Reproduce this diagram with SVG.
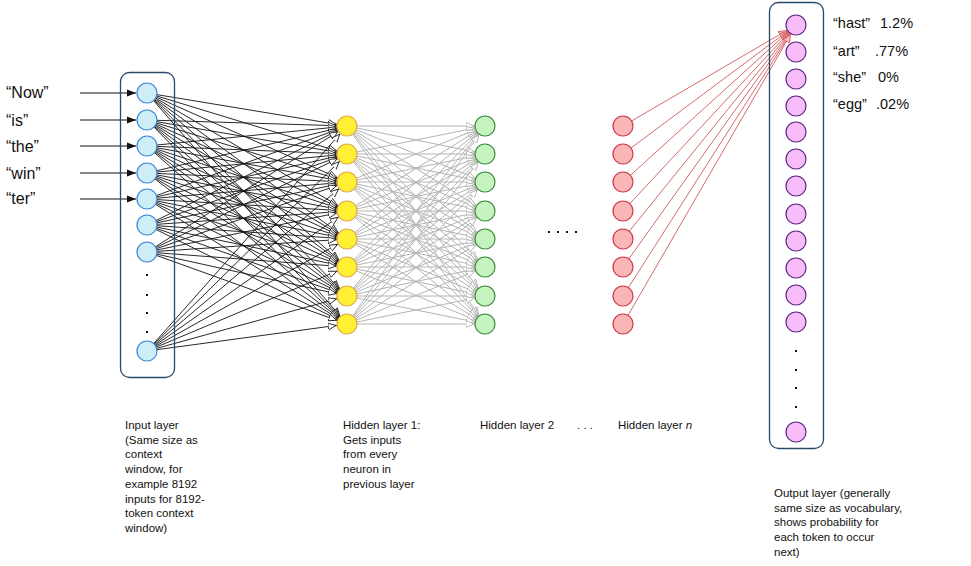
<svg xmlns="http://www.w3.org/2000/svg" width="971" height="566" viewBox="0 0 971 566">
<style>
text{font-family:"Liberation Sans",Arial,sans-serif;fill:#111}
.lbl{font-size:16px}
.sm{font-size:11.5px}
.out{font-size:14.5px}
.box{fill:none;stroke:#2a4868;stroke-width:1.3}
.in circle{fill:#cdeef6;stroke:#3d86d6;stroke-width:1.2}
.h1 circle{fill:#fff033;stroke:#e0a84a;stroke-width:1.2}
.h2 circle{fill:#c6f4c0;stroke:#3c8a3c;stroke-width:1.2}
.hn circle{fill:#f8b6b6;stroke:#d03848;stroke-width:1.2}
.o circle{fill:#f8bcf8;stroke:#5a2a88;stroke-width:1.2}
.k line{stroke:#111;stroke-width:0.9;marker-end:url(#ak)}
.g line{stroke:#b4b4b4;stroke-width:1;marker-end:url(#ag)}
.r line{stroke:#d05a5a;stroke-width:0.9;marker-end:url(#ar)}
.ia line{stroke:#111;stroke-width:1.1;marker-end:url(#af)}
.dot{fill:#111}
</style>
<defs>
<marker id="ak" markerUnits="userSpaceOnUse" markerWidth="30" markerHeight="12" viewBox="0 0 30 12" refX="19" refY="6" orient="auto"><path d="M0,2.6 L8,6 L0,9.4 Z" fill="#fff" stroke="#111" stroke-width="0.8"/></marker>
<marker id="ag" markerUnits="userSpaceOnUse" markerWidth="30" markerHeight="12" viewBox="0 0 30 12" refX="19" refY="6" orient="auto"><path d="M0,2.6 L8,6 L0,9.4 Z" fill="#fff" stroke="#aaa" stroke-width="0.8"/></marker>
<marker id="ar" markerUnits="userSpaceOnUse" markerWidth="30" markerHeight="12" viewBox="0 0 30 12" refX="19" refY="6" orient="auto"><path d="M0,2.6 L8,6 L0,9.4 Z" fill="#f4c0c0" stroke="#d05a5a" stroke-width="0.8"/></marker>
<marker id="af" markerUnits="userSpaceOnUse" markerWidth="10" markerHeight="8" viewBox="0 0 10 8" refX="9" refY="4" orient="auto"><path d="M0,0.5 L9,4 L0,7.5 Z" fill="#111"/></marker>
</defs>

<g id="connectors">
<g class="ia">
<line x1="80" y1="93" x2="136" y2="93"/>
<line x1="80" y1="120" x2="136" y2="120"/>
<line x1="80" y1="146" x2="136" y2="146"/>
<line x1="80" y1="173" x2="136" y2="173"/>
<line x1="80" y1="199" x2="136" y2="199"/>
</g>
<g class="k">
<line x1="147" y1="93" x2="347" y2="126"/><line x1="147" y1="93" x2="347" y2="154"/><line x1="147" y1="93" x2="347" y2="182"/><line x1="147" y1="93" x2="347" y2="211"/><line x1="147" y1="93" x2="347" y2="239"/><line x1="147" y1="93" x2="347" y2="267"/><line x1="147" y1="93" x2="347" y2="296"/><line x1="147" y1="93" x2="347" y2="324"/>
<line x1="147" y1="120" x2="347" y2="126"/><line x1="147" y1="120" x2="347" y2="154"/><line x1="147" y1="120" x2="347" y2="182"/><line x1="147" y1="120" x2="347" y2="211"/><line x1="147" y1="120" x2="347" y2="239"/><line x1="147" y1="120" x2="347" y2="267"/><line x1="147" y1="120" x2="347" y2="296"/><line x1="147" y1="120" x2="347" y2="324"/>
<line x1="147" y1="146" x2="347" y2="126"/><line x1="147" y1="146" x2="347" y2="154"/><line x1="147" y1="146" x2="347" y2="182"/><line x1="147" y1="146" x2="347" y2="211"/><line x1="147" y1="146" x2="347" y2="239"/><line x1="147" y1="146" x2="347" y2="267"/><line x1="147" y1="146" x2="347" y2="296"/><line x1="147" y1="146" x2="347" y2="324"/>
<line x1="147" y1="173" x2="347" y2="126"/><line x1="147" y1="173" x2="347" y2="154"/><line x1="147" y1="173" x2="347" y2="182"/><line x1="147" y1="173" x2="347" y2="211"/><line x1="147" y1="173" x2="347" y2="239"/><line x1="147" y1="173" x2="347" y2="267"/><line x1="147" y1="173" x2="347" y2="296"/><line x1="147" y1="173" x2="347" y2="324"/>
<line x1="147" y1="199" x2="347" y2="126"/><line x1="147" y1="199" x2="347" y2="154"/><line x1="147" y1="199" x2="347" y2="182"/><line x1="147" y1="199" x2="347" y2="211"/><line x1="147" y1="199" x2="347" y2="239"/><line x1="147" y1="199" x2="347" y2="267"/><line x1="147" y1="199" x2="347" y2="296"/><line x1="147" y1="199" x2="347" y2="324"/>
<line x1="147" y1="225" x2="347" y2="126"/><line x1="147" y1="225" x2="347" y2="154"/><line x1="147" y1="225" x2="347" y2="182"/><line x1="147" y1="225" x2="347" y2="211"/><line x1="147" y1="225" x2="347" y2="239"/><line x1="147" y1="225" x2="347" y2="267"/><line x1="147" y1="225" x2="347" y2="296"/><line x1="147" y1="225" x2="347" y2="324"/>
<line x1="147" y1="252" x2="347" y2="126"/><line x1="147" y1="252" x2="347" y2="154"/><line x1="147" y1="252" x2="347" y2="182"/><line x1="147" y1="252" x2="347" y2="211"/><line x1="147" y1="252" x2="347" y2="239"/><line x1="147" y1="252" x2="347" y2="267"/><line x1="147" y1="252" x2="347" y2="296"/><line x1="147" y1="252" x2="347" y2="324"/>
<line x1="147" y1="351" x2="347" y2="126"/><line x1="147" y1="351" x2="347" y2="154"/><line x1="147" y1="351" x2="347" y2="182"/><line x1="147" y1="351" x2="347" y2="211"/><line x1="147" y1="351" x2="347" y2="239"/><line x1="147" y1="351" x2="347" y2="267"/><line x1="147" y1="351" x2="347" y2="296"/><line x1="147" y1="351" x2="347" y2="324"/>
</g>
<g class="g">
<line x1="347" y1="126" x2="485" y2="126"/><line x1="347" y1="126" x2="485" y2="154"/><line x1="347" y1="126" x2="485" y2="182"/><line x1="347" y1="126" x2="485" y2="211"/><line x1="347" y1="126" x2="485" y2="239"/><line x1="347" y1="126" x2="485" y2="267"/><line x1="347" y1="126" x2="485" y2="296"/><line x1="347" y1="126" x2="485" y2="324"/>
<line x1="347" y1="154" x2="485" y2="126"/><line x1="347" y1="154" x2="485" y2="154"/><line x1="347" y1="154" x2="485" y2="182"/><line x1="347" y1="154" x2="485" y2="211"/><line x1="347" y1="154" x2="485" y2="239"/><line x1="347" y1="154" x2="485" y2="267"/><line x1="347" y1="154" x2="485" y2="296"/><line x1="347" y1="154" x2="485" y2="324"/>
<line x1="347" y1="182" x2="485" y2="126"/><line x1="347" y1="182" x2="485" y2="154"/><line x1="347" y1="182" x2="485" y2="182"/><line x1="347" y1="182" x2="485" y2="211"/><line x1="347" y1="182" x2="485" y2="239"/><line x1="347" y1="182" x2="485" y2="267"/><line x1="347" y1="182" x2="485" y2="296"/><line x1="347" y1="182" x2="485" y2="324"/>
<line x1="347" y1="211" x2="485" y2="126"/><line x1="347" y1="211" x2="485" y2="154"/><line x1="347" y1="211" x2="485" y2="182"/><line x1="347" y1="211" x2="485" y2="211"/><line x1="347" y1="211" x2="485" y2="239"/><line x1="347" y1="211" x2="485" y2="267"/><line x1="347" y1="211" x2="485" y2="296"/><line x1="347" y1="211" x2="485" y2="324"/>
<line x1="347" y1="239" x2="485" y2="126"/><line x1="347" y1="239" x2="485" y2="154"/><line x1="347" y1="239" x2="485" y2="182"/><line x1="347" y1="239" x2="485" y2="211"/><line x1="347" y1="239" x2="485" y2="239"/><line x1="347" y1="239" x2="485" y2="267"/><line x1="347" y1="239" x2="485" y2="296"/><line x1="347" y1="239" x2="485" y2="324"/>
<line x1="347" y1="267" x2="485" y2="126"/><line x1="347" y1="267" x2="485" y2="154"/><line x1="347" y1="267" x2="485" y2="182"/><line x1="347" y1="267" x2="485" y2="211"/><line x1="347" y1="267" x2="485" y2="239"/><line x1="347" y1="267" x2="485" y2="267"/><line x1="347" y1="267" x2="485" y2="296"/><line x1="347" y1="267" x2="485" y2="324"/>
<line x1="347" y1="296" x2="485" y2="126"/><line x1="347" y1="296" x2="485" y2="154"/><line x1="347" y1="296" x2="485" y2="182"/><line x1="347" y1="296" x2="485" y2="211"/><line x1="347" y1="296" x2="485" y2="239"/><line x1="347" y1="296" x2="485" y2="267"/><line x1="347" y1="296" x2="485" y2="296"/><line x1="347" y1="296" x2="485" y2="324"/>
<line x1="347" y1="324" x2="485" y2="126"/><line x1="347" y1="324" x2="485" y2="154"/><line x1="347" y1="324" x2="485" y2="182"/><line x1="347" y1="324" x2="485" y2="211"/><line x1="347" y1="324" x2="485" y2="239"/><line x1="347" y1="324" x2="485" y2="267"/><line x1="347" y1="324" x2="485" y2="296"/><line x1="347" y1="324" x2="485" y2="324"/>
</g>
<g class="r">
<line x1="623" y1="126" x2="796" y2="25"/><line x1="623" y1="154" x2="796" y2="25"/><line x1="623" y1="182" x2="796" y2="25"/><line x1="623" y1="211" x2="796" y2="25"/><line x1="623" y1="239" x2="796" y2="25"/><line x1="623" y1="267" x2="796" y2="25"/><line x1="623" y1="296" x2="796" y2="25"/><line x1="623" y1="324" x2="796" y2="25"/>
</g>
</g>

<g id="input-layer" class="in">
<rect class="box" x="120.5" y="72.5" width="54" height="305" rx="9"/>
<circle cx="147" cy="93" r="10"/><circle cx="147" cy="120" r="10"/><circle cx="147" cy="146" r="10"/><circle cx="147" cy="173" r="10"/><circle cx="147" cy="199" r="10"/><circle cx="147" cy="225" r="10"/><circle cx="147" cy="252" r="10"/><circle cx="147" cy="351" r="10"/>
<rect class="dot" x="146" y="274" width="2" height="2"/><rect class="dot" x="146" y="294" width="2" height="2"/><rect class="dot" x="146" y="312" width="2" height="2"/><rect class="dot" x="146" y="331" width="2" height="2"/>
</g>
<g id="input-tokens">
<text class="lbl" x="6" y="98">“Now”</text>
<text class="lbl" x="6" y="126">“is”</text>
<text class="lbl" x="6" y="152">“the”</text>
<text class="lbl" x="6" y="179">“win”</text>
<text class="lbl" x="6" y="204">“ter”</text>
</g>

<g id="hidden-layer-1" class="h1">
<circle cx="347" cy="126" r="10"/><circle cx="347" cy="154" r="10"/><circle cx="347" cy="182" r="10"/><circle cx="347" cy="211" r="10"/><circle cx="347" cy="239" r="10"/><circle cx="347" cy="267" r="10"/><circle cx="347" cy="296" r="10"/><circle cx="347" cy="324" r="10"/>
</g>
<g id="hidden-layer-2" class="h2">
<circle cx="485" cy="126" r="10"/><circle cx="485" cy="154" r="10"/><circle cx="485" cy="182" r="10"/><circle cx="485" cy="211" r="10"/><circle cx="485" cy="239" r="10"/><circle cx="485" cy="267" r="10"/><circle cx="485" cy="296" r="10"/><circle cx="485" cy="324" r="10"/>
</g>
<g id="ellipsis">
<rect class="dot" x="548" y="231" width="2" height="2"/><rect class="dot" x="557" y="231" width="2" height="2"/><rect class="dot" x="566" y="231" width="2" height="2"/><rect class="dot" x="575" y="231" width="2" height="2"/>
</g>
<g id="hidden-layer-n" class="hn">
<circle cx="623" cy="126" r="10"/><circle cx="623" cy="154" r="10"/><circle cx="623" cy="182" r="10"/><circle cx="623" cy="211" r="10"/><circle cx="623" cy="239" r="10"/><circle cx="623" cy="267" r="10"/><circle cx="623" cy="296" r="10"/><circle cx="623" cy="324" r="10"/>
</g>

<g id="output-layer" class="o">
<rect class="box" x="769.5" y="2.5" width="54" height="446" rx="9"/>
<circle cx="796" cy="25" r="10"/><circle cx="796" cy="52" r="10"/><circle cx="796" cy="79" r="10"/><circle cx="796" cy="106" r="10"/><circle cx="796" cy="132" r="10"/><circle cx="796" cy="159" r="10"/><circle cx="796" cy="186" r="10"/><circle cx="796" cy="214" r="10"/><circle cx="796" cy="241" r="10"/><circle cx="796" cy="268" r="10"/><circle cx="796" cy="295" r="10"/><circle cx="796" cy="322" r="10"/><circle cx="796" cy="432" r="10"/>
<rect class="dot" x="795" y="350" width="2" height="2"/><rect class="dot" x="795" y="369" width="2" height="2"/><rect class="dot" x="795" y="387" width="2" height="2"/><rect class="dot" x="795" y="406" width="2" height="2"/>
</g>
<g id="output-probs">
<text class="out" x="833" y="28">“hast”<tspan x="880">1.2%</tspan></text>
<text class="out" x="833" y="56">“art”<tspan x="875">.77%</tspan></text>
<text class="out" x="833" y="82">“she”<tspan x="878">0%</tspan></text>
<text class="out" x="833" y="109">“egg”<tspan x="876">.02%</tspan></text>
</g>

<g id="labels">
<text class="sm" x="125" y="429">Input layer<tspan x="125" dy="14.7">(Same size as</tspan><tspan x="125" dy="14.7">context</tspan><tspan x="125" dy="14.7">window, for</tspan><tspan x="125" dy="14.7">example 8192</tspan><tspan x="125" dy="14.7">inputs for 8192-</tspan><tspan x="125" dy="14.7">token context</tspan><tspan x="125" dy="14.7">window)</tspan></text>
<text class="sm" x="343" y="429">Hidden layer 1:<tspan x="343" dy="14.7">Gets inputs</tspan><tspan x="343" dy="14.7">from every</tspan><tspan x="343" dy="14.7">neuron in</tspan><tspan x="343" dy="14.7">previous layer</tspan></text>
<text class="sm" x="480" y="429">Hidden layer 2</text>
<text class="sm" x="577" y="429">.  .  .</text>
<text class="sm" x="618" y="429">Hidden layer <tspan font-style="italic">n</tspan></text>
<text class="sm" x="774" y="497">Output layer (generally<tspan x="774" dy="14.7">same size as vocabulary,</tspan><tspan x="774" dy="14.7">shows probability for</tspan><tspan x="774" dy="14.7">each token to occur</tspan><tspan x="774" dy="14.7">next)</tspan></text>
</g>
</svg>
